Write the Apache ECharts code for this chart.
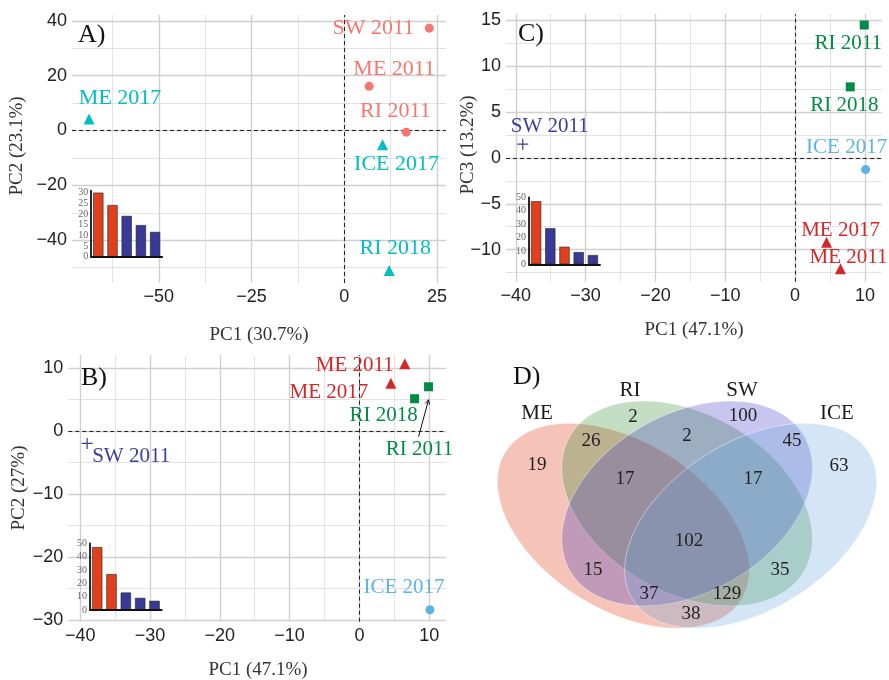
<!DOCTYPE html>
<html><head><meta charset="utf-8">
<script src="https://cdn.jsdelivr.net/npm/echarts@6/dist/echarts.min.js"></script>
<style>html,body{margin:0;padding:0;background:#fff}#c{width:889px;height:680px}</style>
</head><body><div id="c"></div>
<script>
// ---------------- DATA ----------------
// Panel A : PC1 (30.7%) vs PC2 (23.1%)
const aNames = ['SW 2011', 'ME 2011', 'RI 2011', 'ME 2017', 'ICE 2017', 'RI 2018'];
const aPC1 = [22.9, 6.7, 16.7, -68.8, 10.3, 12.1];
const aPC2 = [37.3, 16.1, -0.6, 4.2, -5.2, -51.0];
const aYear = ['2011', '2011', '2011', '2017', '2017', '2018'];

// Panels B and C : PC1 (47.1%), PC2 (27%), PC3 (13.2%)
const bcNames = ['ME 2011', 'ME 2017', 'RI 2011', 'RI 2018', 'SW 2011', 'ICE 2017'];
const bcSite = ['ME', 'ME', 'RI', 'RI', 'SW', 'ICE'];
const bcPC1 = [6.5, 4.5, 9.9, 7.9, -39.0, 10.1];
const bPC2 = [10.7, 7.6, 7.05, 5.15, -1.95, -28.4];
const cPC3 = [-12.1, -9.2, 14.5, 7.75, 1.5, -1.27];

// tick values
const aXTicks = [-50, -25, 0, 25];
const aXMinor = [-62.5, -37.5, -12.5, 12.5];
const aYTicks = [-40, -20, 0, 20, 40];
const aYMinor = [-50, -30, -10, 10, 30];
const bcXTicks = [-40, -30, -20, -10, 0, 10];
const bcXMinor = [-35, -25, -15, -5, 5];
const bYTicks = [-30, -20, -10, 0, 10];
const bYMinor = [-25, -15, -5, 5];
const cYTicks = [-10, -5, 0, 5, 10, 15];
const cYMinor = [-12.5, -7.5, -2.5, 2.5, 7.5, 12.5];

// scree insets
const screeCats = ['1', '2', '3', '4', '5'];
const screeA = [30.0, 24.2, 19.1, 14.8, 11.6];
const screeBC = [47.1, 26.9, 13.1, 9.1, 6.9];
const screeHighlightA = [true, true, false, false, false];
const screeHighlightB = [true, true, false, false, false];
const screeHighlightC = [true, false, true, false, false];

// Venn (panel D)
const vennSets = ['ME', 'RI', 'SW', 'ICE'];
const vennRegions = ['ME', 'RI', 'SW', 'ICE', 'ME&RI', 'RI&SW', 'SW&ICE', 'ME&RI&SW', 'RI&SW&ICE',
  'ME&RI&SW&ICE', 'ME&SW', 'RI&ICE', 'ME&SW&ICE', 'ME&RI&ICE', 'ME&ICE'];
const vennCounts = [19, 2, 100, 63, 26, 2, 45, 17, 17, 102, 15, 35, 37, 129, 38];

// ---------------- LAYOUT / STYLE ----------------
const SERIF = "'Liberation Serif', 'DejaVu Serif', serif";
const SANS = "'Liberation Sans', Arial, sans-serif";
const colA2011 = '#F8766D', colALater = '#00BFC4';
const siteColor = { ME: '#D62728', RI: '#008C45', SW: '#3B3F9C', ICE: '#5BB4E5' };
const siteSymbol = { ME: 'triangle', RI: 'rect', SW: 'path://M5,0V10M0,5H10', ICE: 'circle' };
const siteSize = { ME: 11, RI: 9, SW: 11, ICE: 9 };
const barRed = '#E2401C', barBlue = '#393A98';

const aLabelOff = { 'SW 2011': [-56, 0], 'ME 2011': [25, -17], 'RI 2011': [-11, -21], 'ME 2017': [31, -21], 'ICE 2017': [14, 19], 'RI 2018': [6, -22] };
const cLabelOff = { 'RI 2011': [-16, 18], 'RI 2018': [-6, 19], 'ICE 2017': [-19, -22], 'SW 2011': [27, -18], 'ME 2017': [14, -12], 'ME 2011': [8, -11] };
const bLabelOff = { 'ME 2011': [-50, 2], 'ME 2017': [-62, 9], 'RI 2018': [-31, 17], 'RI 2011': [-9, 63], 'SW 2011': [44, 13], 'ICE 2017': [-26, -22] };

const vennEllipses = {
  ME: { cx: 623.3, cy: 525.8, a: 139.1, b: 83.8, ang: 32.1, fill: 'rgba(222,40,0,0.28)' },
  RI: { cx: 687, cy: 503.5, a: 135.1, b: 89.2, ang: 29.8, fill: 'rgba(36,133,36,0.27)' },
  SW: { cx: 687, cy: 503.5, a: 135.1, b: 89.2, ang: -29.8, fill: 'rgba(51,44,192,0.27)' },
  ICE: { cx: 750.7, cy: 525.8, a: 139.1, b: 83.8, ang: -32.1, fill: 'rgba(96,162,218,0.27)' }
};
const vennSetLabelPos = { ME: [537, 413], RI: [630, 390], SW: [742, 390], ICE: [837, 413] };
const vennCountPos = {
  'ME': [537, 465], 'RI': [633, 417], 'SW': [743, 416], 'ICE': [839, 466],
  'ME&RI': [591, 441], 'RI&SW': [687, 436], 'SW&ICE': [792, 441],
  'ME&RI&SW': [625, 479], 'RI&SW&ICE': [753, 479], 'ME&RI&SW&ICE': [689, 541],
  'ME&SW': [593, 570], 'RI&ICE': [780, 570], 'ME&SW&ICE': [649, 594], 'ME&RI&ICE': [727, 594], 'ME&ICE': [691, 614]
};

// ---------------- HELPERS ----------------
const fmt = v => (v < 0 ? '\u2212' + Math.abs(v) : String(v));

function valAxis(gridIndex, min, max, ticks) {
  return {
    type: 'value', gridIndex, min, max, scale: true,
    axisLine: { show: false }, splitLine: { show: false },
    axisTick: { show: true, length: 4, customValues: ticks, lineStyle: { color: '#333', width: 1 } },
    axisLabel: { customValues: ticks, color: '#222', fontSize: 18, fontFamily: SANS, margin: 5, formatter: fmt }
  };
}
function gridLines(xMaj, xMin, yMaj, yMin) {
  const d = [];
  xMin.forEach(v => d.push({ xAxis: v, lineStyle: { color: '#DCDCDC', width: 0.8, type: 'solid' } }));
  yMin.forEach(v => d.push({ yAxis: v, lineStyle: { color: '#DCDCDC', width: 0.8, type: 'solid' } }));
  xMaj.forEach(v => d.push({ xAxis: v, lineStyle: { color: '#D0D0D0', width: 1.4, type: 'solid' } }));
  yMaj.forEach(v => d.push({ yAxis: v, lineStyle: { color: '#D0D0D0', width: 1.4, type: 'solid' } }));
  d.push({ xAxis: 0, lineStyle: { color: '#222', width: 1, type: [4, 3] } });
  d.push({ yAxis: 0, lineStyle: { color: '#222', width: 1, type: [4, 3] } });
  return { silent: true, symbol: ['none', 'none'], label: { show: false }, z: 1, data: d, animation: false };
}
function ptItem(name, x, y, symbol, size, color, off, fs) {
  const isPlus = symbol.indexOf('path://') === 0;
  return {
    name, value: [x, y], symbol, symbolSize: size,
    itemStyle: isPlus ? { color: 'rgba(0,0,0,0)', borderColor: color, borderWidth: 1.2, opacity: 1 } : { color, opacity: 1 },
    label: { show: true, position: 'inside', offset: off, formatter: name, color, opacity: 1, fontSize: fs, fontFamily: SERIF }
  };
}
function ellipsePts(e) {
  const r = e.ang * Math.PI / 180, pts = [];
  for (let i = 0; i < 180; i++) {
    const t = i / 180 * 2 * Math.PI;
    const x = e.a * Math.cos(t), y = e.b * Math.sin(t);
    pts.push([e.cx + x * Math.cos(r) - y * Math.sin(r), e.cy + x * Math.sin(r) + y * Math.cos(r)]);
  }
  return pts;
}
function screeSeries(idx, vals, hl) {
  return {
    type: 'bar', xAxisIndex: idx, yAxisIndex: idx, barWidth: '72%', z: 6,
    data: vals.map((v, i) => ({ value: v, itemStyle: { color: hl[i] ? barRed : barBlue, borderColor: '#222', borderWidth: 0.6 } }))
  };
}
function screeAxes(idx, max, interval) {
  return [{
    type: 'category', gridIndex: idx, data: screeCats,
    axisLine: { show: true, lineStyle: { color: '#111', width: 1.8 } }, axisTick: { show: false }, axisLabel: { show: false }, z: 7
  }, {
    type: 'value', gridIndex: idx, min: 0, max, interval,
    axisLine: { show: true, lineStyle: { color: '#111', width: 1.8 } }, axisTick: { show: false }, splitLine: { show: false },
    axisLabel: { color: '#666', fontSize: 10, fontFamily: SERIF, margin: 3 }, z: 7
  }];
}

// ---------------- OPTION ----------------
const aData = aNames.map((n, i) => ptItem(n, aPC1[i], aPC2[i],
  aYear[i] === '2011' ? 'circle' : 'triangle', aYear[i] === '2011' ? 9 : 11,
  aYear[i] === '2011' ? colA2011 : colALater, aLabelOff[n], 22));
const bData = bcNames.map((n, i) => ptItem(n, bcPC1[i], bPC2[i], siteSymbol[bcSite[i]], siteSize[bcSite[i]], siteColor[bcSite[i]], bLabelOff[n], 21));
const cData = bcNames.map((n, i) => ptItem(n, bcPC1[i], cPC3[i], siteSymbol[bcSite[i]], siteSize[bcSite[i]], siteColor[bcSite[i]], cLabelOff[n], 21));

const sA = screeAxes(3, 30.9, 5), sB = screeAxes(4, 50, 10), sC = screeAxes(5, 50, 10);

const graphics = [];
vennSets.forEach(s => {
  graphics.push({ type: 'polygon', silent: true, z: 1, shape: { points: ellipsePts(vennEllipses[s]) },
    style: { fill: vennEllipses[s].fill, stroke: 'rgba(255,255,255,0.55)', lineWidth: 0.8 } });
});
vennSets.forEach(s => {
  graphics.push({ type: 'text', z: 3, x: vennSetLabelPos[s][0], y: vennSetLabelPos[s][1],
    style: { text: s, fill: '#1a1a1a', font: '21px ' + SERIF, align: 'center', verticalAlign: 'middle' } });
});
vennRegions.forEach((r, i) => {
  graphics.push({ type: 'text', z: 3, x: vennCountPos[r][0], y: vennCountPos[r][1],
    style: { text: String(vennCounts[i]), fill: '#222', font: '19px ' + SERIF, align: 'center', verticalAlign: 'middle' } });
});
[['A)', 78, 35], ['C)', 518, 34], ['B)', 81, 378], ['D)', 513, 377]].forEach(p => {
  graphics.push({ type: 'text', z: 10, x: p[1], y: p[2],
    style: { text: p[0], fill: '#111', font: '26px ' + SERIF, align: 'left', verticalAlign: 'middle' } });
});
[['PC1 (30.7%)', 259, 335, 0], ['PC2 (23.1%)', 17, 146, 90],
 ['PC1 (47.1%)', 694, 330, 0], ['PC3 (13.2%)', 468, 145, 90],
 ['PC1 (47.1%)', 258, 670, 0], ['PC2 (27%)', 19, 488, 90]].forEach(t => {
  graphics.push({ type: 'text', z: 10, x: t[1], y: t[2], rotation: t[3] * Math.PI / 180,
    style: { text: t[0], fill: '#333', font: '19px ' + SERIF, align: 'center', verticalAlign: 'middle' } });
});

const option = {
  animation: false,
  backgroundColor: '#fff',
  grid: [
    { left: 72, top: 15, width: 374, height: 268 },
    { left: 506, top: 14, width: 375.7, height: 267.7 },
    { left: 68.3, top: 355, width: 377.7, height: 266.7 },
    { left: 91.2, top: 190.7, width: 71, height: 66 },
    { left: 90, top: 543.3, width: 71.7, height: 66.7 },
    { left: 529, top: 197.3, width: 71, height: 67 }
  ],
  xAxis: [
    valAxis(0, -73.4, 27.4, aXTicks),
    valAxis(1, -41.4, 12.4, bcXTicks),
    valAxis(2, -41.7, 12.4, bcXTicks),
    sA[0], sB[0], sC[0]
  ],
  yAxis: [
    valAxis(0, -55.6, 42.1, aYTicks),
    valAxis(1, -13.5, 15.7, cYTicks),
    valAxis(2, -30.3, 12.1, bYTicks),
    sA[1], sB[1], sC[1]
  ],
  series: [
    { type: 'scatter', xAxisIndex: 0, yAxisIndex: 0, z: 5, itemStyle: { opacity: 1 }, data: aData, markLine: gridLines(aXTicks, aXMinor, aYTicks, aYMinor) },
    { type: 'scatter', xAxisIndex: 1, yAxisIndex: 1, z: 5, itemStyle: { opacity: 1 }, data: cData, markLine: gridLines(bcXTicks, bcXMinor, cYTicks, cYMinor) },
    { type: 'scatter', xAxisIndex: 2, yAxisIndex: 2, z: 5, itemStyle: { opacity: 1 }, data: bData, markLine: gridLines(bcXTicks, bcXMinor, bYTicks, bYMinor) },
    screeSeries(3, screeA, screeHighlightA),
    screeSeries(4, screeBC, screeHighlightB),
    screeSeries(5, screeBC, screeHighlightC)
  ],
  graphic: graphics
};

const chart = echarts.init(document.getElementById('c'), null, { renderer: 'canvas' });
chart.setOption(option);

// arrow from the "RI 2011" label to its point in panel B
const ri = bcNames.indexOf('RI 2011');
const p = chart.convertToPixel({ gridIndex: 2 }, [bcPC1[ri], bPC2[ri]]);
const x0 = p[0] - 10, y0 = p[1] + 50, x1 = p[0], y1 = p[1] + 13;
const ang = Math.atan2(y1 - y0, x1 - x0), hl = 5;
graphics.push({ type: 'line', z: 10, shape: { x1: x0, y1: y0, x2: x1, y2: y1 }, style: { stroke: '#111', lineWidth: 1 } });
graphics.push({ type: 'polyline', z: 10, shape: { points: [
  [x1 - hl * Math.cos(ang - 0.45), y1 - hl * Math.sin(ang - 0.45)], [x1, y1],
  [x1 - hl * Math.cos(ang + 0.45), y1 - hl * Math.sin(ang + 0.45)]] }, style: { stroke: '#111', lineWidth: 1, fill: null } });
chart.setOption({ graphic: graphics });
</script></body></html>
